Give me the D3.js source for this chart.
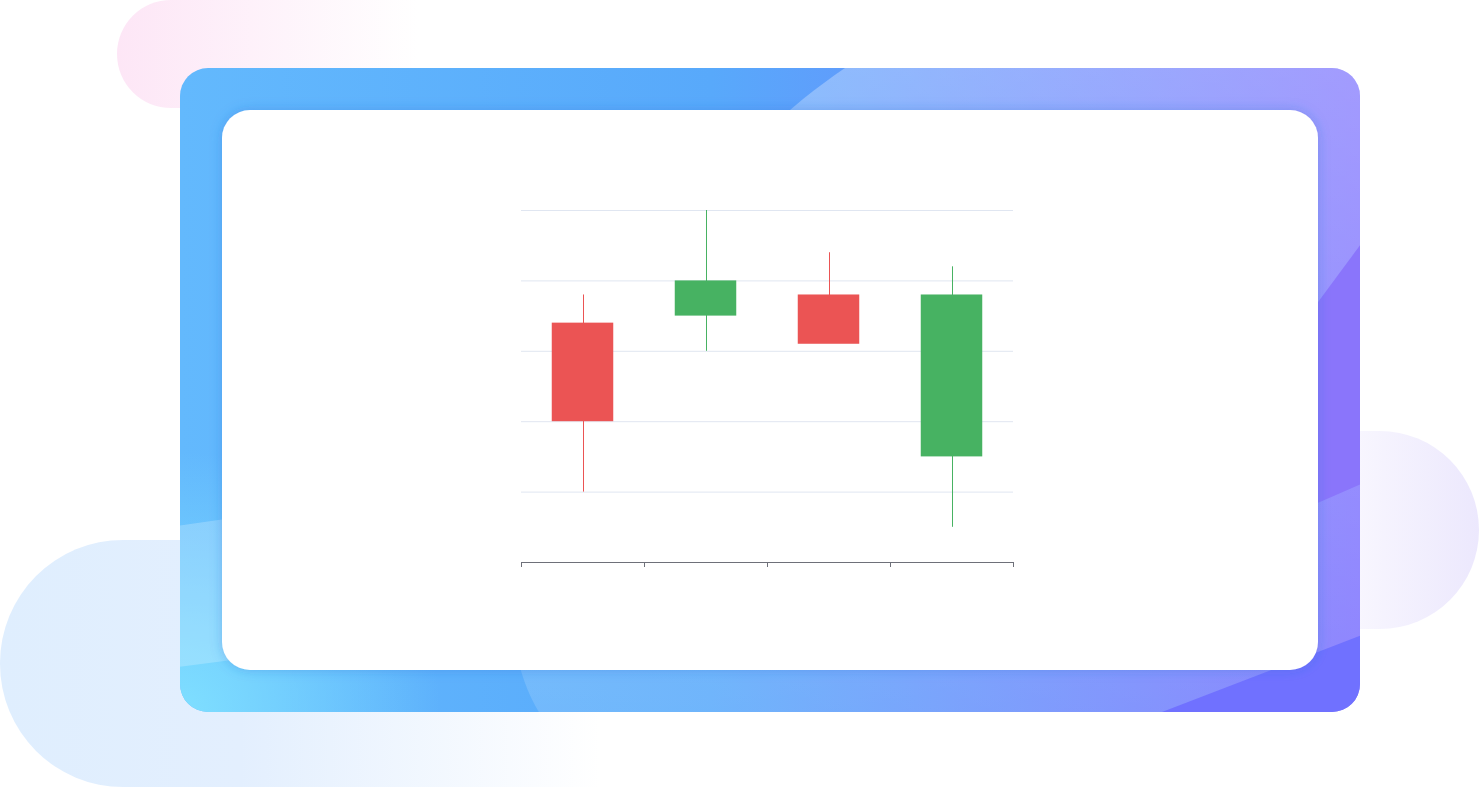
<!DOCTYPE html>
<html lang="en">
<head>
  <meta charset="UTF-8">
  <title>Candlestick</title>
  <script src="https://d3js.org/d3.v7.min.js"></script>
  <style>
    html, body {
      margin: 0;
      padding: 0;
      background: #fff;
    }
    svg {
      display: block;
    }
  </style>
</head>
<body>
  <svg width="1479" height="788"></svg>

  <script>
    // candlestick data: [open, close, low, high]
    const dates = ['2017-10-24', '2017-10-25', '2017-10-26', '2017-10-27'];
    const openValues = [20, 40, 31, 38];
    const closeValues = [34, 35, 38, 15];
    const lowValues = [10, 30, 33, 5];
    const highValues = [38, 50, 44, 42];
    const yTicks = [10, 20, 30, 40, 50];

    const upColor = '#eb5454';
    const downColor = '#47b262';

    const svg = d3.select('svg');
    const defs = svg.append('defs');

    function linGrad(id, x1, x2, stops) {
      const g = defs.append('linearGradient')
        .attr('id', id)
        .attr('gradientUnits', 'userSpaceOnUse')
        .attr('x1', x1).attr('x2', x2)
        .attr('y1', 0).attr('y2', 0);
      stops.forEach(s => g.append('stop')
        .attr('offset', s[0])
        .attr('stop-color', s[1])
        .attr('stop-opacity', s[2] == null ? 1 : s[2]));
    }

    // background blobs
    linGrad('pinkFade', 117, 620, [[0, '#fde6f6'], [0.6, '#ffffff']]);
    linGrad('blueFade', 0, 800, [[0, '#dfeefe'], [0.3, '#e3effe'], [0.75, '#ffffff']]);
    linGrad('lilacFade', 1280, 1479, [[0, '#ffffff'], [1, '#ece8fd']]);

    svg.append('rect')
      .attr('x', 117).attr('y', 0)
      .attr('width', 560).attr('height', 108)
      .attr('rx', 54)
      .attr('fill', 'url(#pinkFade)');

    svg.append('rect')
      .attr('x', 0).attr('y', 540)
      .attr('width', 800).attr('height', 247)
      .attr('rx', 123)
      .attr('fill', 'url(#blueFade)');

    svg.append('rect')
      .attr('x', 1250).attr('y', 431)
      .attr('width', 229).attr('height', 198)
      .attr('rx', 99)
      .attr('fill', 'url(#lilacFade)');

    // gradient frame
    const frame = { x: 180, y: 68, w: 1180, h: 644, r: 28 };
    linGrad('frameBase', frame.x, frame.x + frame.w,
      [[0, '#63b9fd'], [0.45, '#58a9fb'], [1, '#7b70fe']]);

    const glow = defs.append('linearGradient')
      .attr('id', 'glow')
      .attr('gradientUnits', 'userSpaceOnUse')
      .attr('x1', 0).attr('x2', 0)
      .attr('y1', frame.y).attr('y2', frame.y + frame.h);
    glow.append('stop').attr('offset', 0).attr('stop-color', '#fff').attr('stop-opacity', 0.3);
    glow.append('stop').attr('offset', 1).attr('stop-color', '#fff').attr('stop-opacity', 0.14);

    const corner = defs.append('radialGradient')
      .attr('id', 'corner')
      .attr('gradientUnits', 'userSpaceOnUse')
      .attr('cx', frame.x).attr('cy', frame.y + frame.h).attr('r', 260);
    corner.append('stop').attr('offset', 0).attr('stop-color', '#7fdfff').attr('stop-opacity', 1);
    corner.append('stop').attr('offset', 1).attr('stop-color', '#7fdfff').attr('stop-opacity', 0);

    defs.append('clipPath').attr('id', 'frameClip')
      .append('rect')
      .attr('x', frame.x).attr('y', frame.y)
      .attr('width', frame.w).attr('height', frame.h)
      .attr('rx', frame.r);

    const shadow = defs.append('filter')
      .attr('id', 'cardShadow')
      .attr('x', '-5%').attr('y', '-5%')
      .attr('width', '110%').attr('height', '110%');
    shadow.append('feDropShadow')
      .attr('dx', 0).attr('dy', 0)
      .attr('stdDeviation', 6)
      .attr('flood-color', '#2b6fd8')
      .attr('flood-opacity', 0.35);

    const fg = svg.append('g').attr('clip-path', 'url(#frameClip)');
    fg.append('rect')
      .attr('x', frame.x).attr('y', frame.y)
      .attr('width', frame.w).attr('height', frame.h)
      .attr('fill', 'url(#frameBase)');
    fg.append('rect')
      .attr('x', frame.x).attr('y', frame.y)
      .attr('width', 300).attr('height', frame.h)
      .attr('fill', 'url(#corner)');
    // big light sweep
    fg.append('path')
      .attr('d', 'M870,52 C640,190 410,580 560,740 L1400,740 L1400,40 Z')
      .attr('fill', 'url(#glow)');
    // darker wave on the right edge
    fg.append('path')
      .attr('d', 'M1290,340 L1375,225 L1375,478 L1290,515 Z')
      .attr('fill', '#8a75fb');
    fg.append('path')
      .attr('d', 'M1162,712 L1375,630 L1375,725 L1162,725 Z')
      .attr('fill', '#7071ff');
    // lighter band on the left edge
    fg.append('path')
      .attr('d', 'M170,527 L232,518 L232,660 L170,668 Z')
      .attr('fill', '#fff')
      .attr('opacity', 0.22);

    // white card
    svg.append('rect')
      .attr('x', 222).attr('y', 110)
      .attr('width', 1096).attr('height', 560)
      .attr('rx', 28)
      .attr('fill', '#fff')
      .attr('filter', 'url(#cardShadow)');

    // chart
    const plotLeft = 521, plotRight = 1013, plotTop = 210, plotBottom = 562;

    const x = d3.scaleBand()
      .domain(dates)
      .range([plotLeft, plotRight])
      .paddingInner(0.5)
      .paddingOuter(0.25);

    const xEdges = d3.scaleLinear()
      .domain([0, dates.length])
      .range([plotLeft, plotRight]);

    const y = d3.scaleLinear()
      .domain([0, 50])
      .range([plotBottom, plotTop]);

    // grid lines
    svg.append('g')
      .attr('transform', `translate(${plotLeft},0)`)
      .call(d3.axisLeft(y).tickValues(yTicks).tickSize(-(plotRight - plotLeft)).tickFormat(''))
      .call(g => g.select('.domain').remove())
      .call(g => g.selectAll('.tick line')
        .attr('stroke', '#e0e6f1')
        .attr('stroke-width', 1));

    // x axis, ticks at band edges
    svg.append('g')
      .attr('transform', `translate(0,${plotBottom})`)
      .call(d3.axisBottom(xEdges).ticks(dates.length).tickSize(5).tickFormat(''))
      .call(g => g.select('.domain').attr('stroke', '#6e7079'))
      .call(g => g.selectAll('.tick line').attr('stroke', '#6e7079'));

    const candles = dates.map((d, i) => ({
      date: d,
      open: openValues[i],
      close: closeValues[i],
      low: lowValues[i],
      high: highValues[i]
    }));

    const candle = svg.append('g')
      .selectAll('g')
      .data(candles)
      .enter().append('g');

    candle.append('line')
      .attr('x1', d => Math.round(x(d.date) + x.bandwidth() / 2) + 0.5)
      .attr('x2', d => Math.round(x(d.date) + x.bandwidth() / 2) + 0.5)
      .attr('y1', d => y(d.high))
      .attr('y2', d => y(d.low))
      .attr('stroke', d => d.close > d.open ? upColor : downColor)
      .attr('stroke-width', 1);

    candle.append('rect')
      .attr('x', d => x(d.date))
      .attr('width', x.bandwidth())
      .attr('y', d => y(Math.max(d.open, d.close)))
      .attr('height', d => Math.abs(y(d.open) - y(d.close)))
      .attr('fill', d => d.close > d.open ? upColor : downColor);
  </script>
</body>
</html>
